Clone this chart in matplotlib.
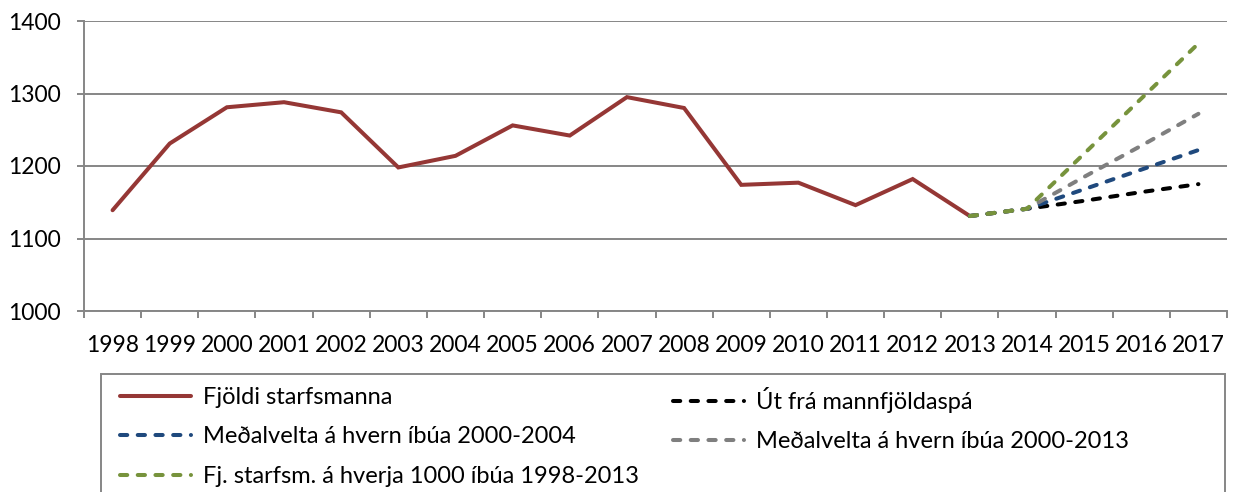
import matplotlib
matplotlib.use("Agg")
import matplotlib.pyplot as plt
from matplotlib.patches import Rectangle

years = list(range(1998, 2018))
year_labels = [str(y) for y in years]

# Actual staff count 1998-2013
actual_years = list(range(1998, 2014))
actual = [1139, 1231, 1281, 1288, 1274, 1198, 1214, 1256, 1242, 1295, 1280,
          1174, 1177, 1146, 1182, 1131]

proj_years = [2013, 2014, 2015, 2016, 2017]
proj_pop = [1131, 1141, 1152, 1164, 1175]        # Út frá mannfjöldaspá
proj_avg_0004 = [1131, 1141, 1168, 1195, 1222]   # Meðalvelta 2000-2004
proj_avg_0013 = [1131, 1141, 1185, 1228, 1272]   # Meðalvelta 2000-2013
proj_per1000 = [1131, 1141, 1217, 1293, 1369]    # Fj. starfsm. á hverja 1000 íbúa

labels = ["Fjöldi starfsmanna", "Út frá mannfjöldaspá",
          "Meðalvelta á hvern íbúa 2000-2004", "Meðalvelta á hvern íbúa 2000-2013",
          "Fj. starfsm. á hverja 1000 íbúa 1998-2013"]
colors = ["#953735", "#000000", "#1F497D", "#7F7F7F", "#77933C"]

plt.rcParams['font.family'] = ['Lato', 'DejaVu Sans']

W, H = 1237, 492
fig = plt.figure(figsize=(W / 100, H / 100), dpi=100)
ax = fig.add_axes([84 / W, 1 - 311 / H, (1227 - 84) / W, (311 - 21) / H])

idx = {y: i for i, y in enumerate(years)}
lw = 2.9
dash = (1.8, 2.6)

h_actual, = ax.plot([idx[y] for y in actual_years], actual, color=colors[0], lw=lw,
                    solid_capstyle='round', solid_joinstyle='miter', zorder=3)
handles = [h_actual]
for vals, c in zip([proj_pop, proj_avg_0004, proj_avg_0013, proj_per1000], colors[1:]):
    h, = ax.plot([idx[y] for y in proj_years], vals, color=c, lw=lw,
                 linestyle=(0, dash), dash_capstyle='round', zorder=4)
    handles.append(h)

ax.set_xlim(-0.5, len(years) - 0.5)
ax.set_ylim(1000, 1400)
ax.set_yticks([1000, 1100, 1200, 1300, 1400])
ax.set_xticks(range(len(years)))
ax.set_xticklabels(year_labels)
ax.set_xticks([i - 0.5 for i in range(len(years) + 1)], minor=True)
ax.tick_params(axis='x', which='major', length=0, pad=17, labelsize=16.5)
ax.tick_params(axis='x', which='minor', length=5, width=1.4, color='#868686')
ax.tick_params(axis='y', length=5, width=1.4, color='#868686', pad=12, labelsize=16.5)

ax.grid(axis='y', color='#868686', lw=1.4, zorder=0)
for s in ['top', 'right']:
    ax.spines[s].set_visible(False)
for s in ['left', 'bottom']:
    ax.spines[s].set_color('#868686')
    ax.spines[s].set_linewidth(1.4)

# Legend frame
fig.patches.append(Rectangle((101 / W, -0.1), (1225 - 101) / W, 0.1 + (1 - 374 / H),
                             transform=fig.transFigure, fill=False,
                             edgecolor='#868686', lw=1.4, zorder=1))

common = dict(frameon=False, fontsize=17, handlelength=3.0, handletextpad=0.5,
              labelspacing=0.78, borderpad=0, borderaxespad=0)
leg1 = fig.legend([handles[0], handles[2], handles[4]], [labels[0], labels[2], labels[4]],
                  loc='upper left', bbox_to_anchor=(120 / W, 1 - 387 / H), **common)
leg2 = fig.legend([handles[1], handles[3]], [labels[1], labels[3]],
                  loc='upper left', bbox_to_anchor=(673 / W, 1 - 387 / H), **common)

fig.savefig("out.png", dpi=100)
